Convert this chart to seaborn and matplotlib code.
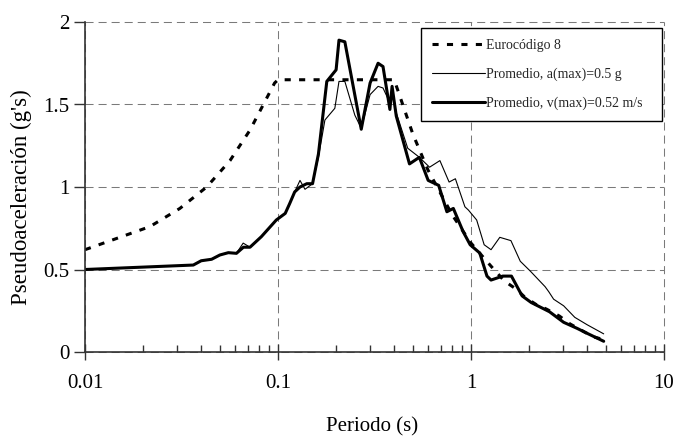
import matplotlib
matplotlib.use("Agg")
import matplotlib.pyplot as plt
import numpy as np
import pandas as pd
import seaborn as sns

# Eurocode 8 design spectrum
ec8_T = [0.01, 0.0217, 0.031, 0.0427, 0.0564, 0.0716, 0.096, 0.1, 0.4, 0.5, 0.6, 0.8, 1.0,
         1.27, 1.49, 1.72, 1.89, 2.16, 2.46, 2.87, 3.26, 4.28, 4.87]
ec8_Sa = [0.62, 0.76, 0.87, 1.00, 1.16, 1.345, 1.63, 1.65, 1.65, 1.32, 1.10, 0.83, 0.66,
          0.52, 0.43, 0.38, 0.335, 0.29, 0.26, 0.218, 0.17, 0.093, 0.075]

# Mean spectrum, records scaled to a(max) = 0.5 g
amax_T = [0.01, 0.0364, 0.04, 0.0453, 0.05, 0.0553, 0.0609, 0.066, 0.0716, 0.082, 0.098,
          0.109, 0.115, 0.122, 0.130, 0.138, 0.151, 0.162, 0.175, 0.197, 0.207, 0.222,
          0.25, 0.27, 0.30, 0.33, 0.35, 0.38, 0.39, 0.41, 0.47, 0.54, 0.61, 0.69, 0.77,
          0.83, 0.93, 0.97, 1.07, 1.17, 1.27, 1.41, 1.61, 1.80, 2.03, 2.42, 2.53, 2.68,
          3.02, 3.45, 4.0, 4.87]
amax_Sa = [0.50, 0.527, 0.553, 0.562, 0.588, 0.602, 0.598, 0.66, 0.635, 0.699, 0.80,
           0.84, 0.90, 0.97, 1.04, 0.986, 1.02, 1.18, 1.406, 1.477, 1.64, 1.64,
           1.436, 1.356, 1.56, 1.61, 1.60, 1.51, 1.58, 1.45, 1.235, 1.18, 1.12, 1.16, 1.03,
           1.05, 0.88, 0.86, 0.80, 0.65, 0.62, 0.695, 0.675, 0.55, 0.49, 0.396, 0.365, 0.32,
           0.28, 0.21, 0.165, 0.11]

# Mean spectrum, records scaled to v(max) = 0.52 m/s
vmax_T = [0.01, 0.0364, 0.04, 0.0453, 0.05, 0.0553, 0.0609, 0.0662, 0.0716, 0.082, 0.098,
          0.109, 0.115, 0.122, 0.130, 0.141, 0.151, 0.162, 0.179, 0.20, 0.207, 0.222,
          0.27, 0.30, 0.33, 0.35, 0.38, 0.39, 0.41, 0.48, 0.54, 0.60, 0.68, 0.75, 0.81,
          0.91, 0.99, 1.11, 1.21, 1.27, 1.46, 1.62, 1.84, 2.05, 2.55, 3.02, 3.55, 4.0, 4.87]
vmax_Sa = [0.50, 0.527, 0.553, 0.562, 0.588, 0.602, 0.598, 0.635, 0.635, 0.699, 0.80,
           0.84, 0.90, 0.97, 1.00, 1.02, 1.02, 1.20, 1.64, 1.71, 1.89, 1.88,
           1.35, 1.63, 1.75, 1.73, 1.47, 1.61, 1.43, 1.14, 1.18, 1.04, 1.01, 0.85, 0.87,
           0.73, 0.65, 0.60, 0.46, 0.436, 0.46, 0.46, 0.34, 0.30, 0.244, 0.18, 0.143, 0.113, 0.065]

labels = ["Eurocódigo 8", "Promedio, a(max)=0.5 g", "Promedio, v(max)=0.52 m/s"]

x_ticks = [0.01, 0.1, 1, 10]
x_tick_labels = ["0.01", "0.1", "1", "10"]
y_ticks = [0, 0.5, 1, 1.5, 2]
y_tick_labels = ["0", "0.5", "1", "1.5", "2"]

sns.set_theme(style="white")
plt.rcParams["font.family"] = ["Liberation Serif", "DejaVu Serif"]
plt.rcParams["lines.scale_dashes"] = False
plt.rcParams["lines.dash_capstyle"] = "butt"

fig = plt.figure(figsize=(6.73, 4.36), dpi=100)
ax = fig.add_axes([85 / 673, 1 - 352 / 436, 579 / 673, 330 / 436])

df_ec8 = pd.DataFrame({"T": ec8_T, "Sa": ec8_Sa})
df_a = pd.DataFrame({"T": amax_T, "Sa": amax_Sa})
df_v = pd.DataFrame({"T": vmax_T, "Sa": vmax_Sa})

sns.lineplot(data=df_ec8, x="T", y="Sa", ax=ax, color="black", linewidth=2.2,
             linestyle=(0, (4.4, 6.0)), estimator=None, sort=False, label=labels[0])
sns.lineplot(data=df_a, x="T", y="Sa", ax=ax, color="black", linewidth=0.8,
             estimator=None, sort=False, label=labels[1])
sns.lineplot(data=df_v, x="T", y="Sa", ax=ax, color="black", linewidth=2.2,
             estimator=None, sort=False, label=labels[2])

ax.set_xscale("log")
ax.set_xlim(0.01, 10)
ax.set_ylim(0, 2)

ax.set_xticks(x_ticks)
ax.set_xticklabels(x_tick_labels)
ax.xaxis.set_minor_locator(matplotlib.ticker.LogLocator(base=10, subs=np.arange(2, 10)))
ax.xaxis.set_minor_formatter(matplotlib.ticker.NullFormatter())
ax.set_yticks(y_ticks)
ax.set_yticklabels(y_tick_labels)

ax.tick_params(axis="x", which="major", direction="inout", length=12, width=1,
               color="#333333", labelsize=15, pad=10, bottom=True)
ax.tick_params(axis="x", which="minor", direction="in", length=5, width=1,
               color="#333333", bottom=True)
ax.tick_params(axis="y", which="major", direction="out", length=8, width=1,
               color="#333333", labelsize=15, pad=3, left=True)
for lab in ax.get_xticklabels() + ax.get_yticklabels():
    lab.set_color("black")

ax.grid(True, which="major", color="#7a7a7a", linestyle=(0, (5.8, 3.6)), linewidth=0.75)
for gl in ax.xaxis.get_gridlines() + ax.yaxis.get_gridlines():
    gl.set_clip_on(False)

for side in ("top", "right"):
    ax.spines[side].set_visible(False)
for side in ("left", "bottom"):
    ax.spines[side].set_color("#333333")
    ax.spines[side].set_linewidth(1.2)

ax.set_xlabel("Periodo (s)", fontsize=15, color="black")
ax.set_ylabel("Pseudoaceleración (g's)", fontsize=16.5, color="black")
ax.xaxis.set_label_coords(0.496, -0.197)
ax.yaxis.set_label_coords(-0.092, 0.468)

leg = ax.legend(loc="upper left", bbox_to_anchor=(0.580, 0.703, 0.4165, 0.279),
                mode="expand", borderaxespad=0, fontsize=10, handlelength=3.8,
                handletextpad=0.1, labelspacing=1.1, borderpad=0.8,
                fancybox=False, frameon=True, framealpha=1)
leg.get_frame().set_edgecolor("black")
leg.get_frame().set_linewidth(1.0)

fig.savefig("out.png", dpi=100)
